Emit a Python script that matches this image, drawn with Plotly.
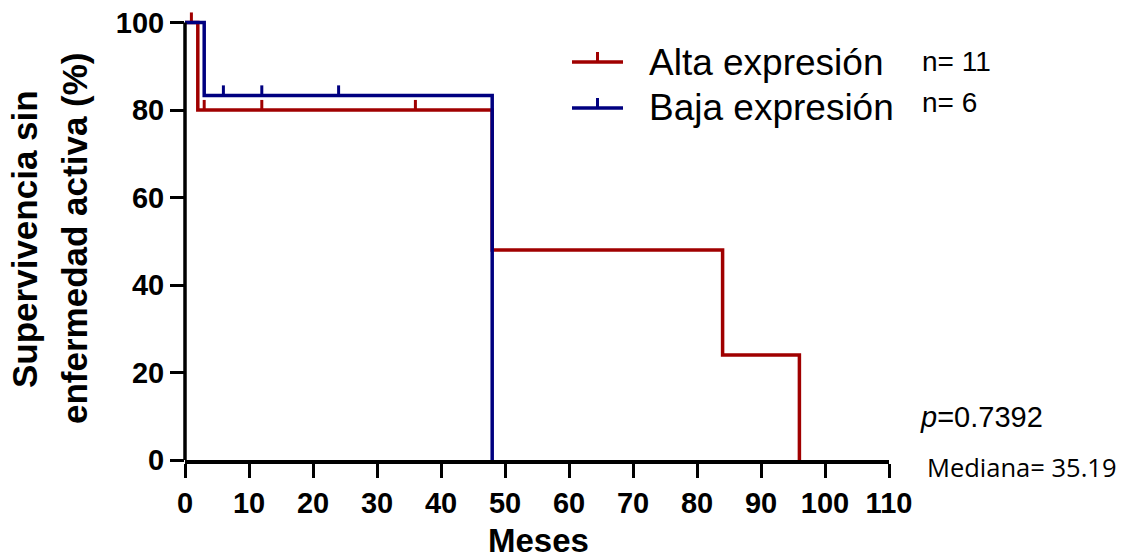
import plotly.graph_objects as go

# Kaplan-Meier step data (months, % event-free survival)
alta_t = [0, 2, 48, 84, 96]
alta_s = [100, 80, 48, 24, 0]
alta_cens_t = [1, 3, 12, 36]
alta_cens_s = [100, 80, 80, 80]

baja_t = [0, 3, 48]
baja_s = [100, 83.33, 0]
baja_cens_t = [6, 12, 24]
baja_cens_s = [83.33, 83.33, 83.33]

x_ticks = [0, 10, 20, 30, 40, 50, 60, 70, 80, 90, 100, 110]
y_ticks = [0, 20, 40, 60, 80, 100]

RED = "#a00000"
BLUE = "#000080"
FONT = "Liberation Sans, Arial, sans-serif"

W, H = 1130, 558
L, R, T, B = 185, 889, 5, 460
Y_MAX = 104
CENSOR_H = 2.3  # height of censor tick marks in y units


def px(x):
    return (x - L) / (R - L)


def py(y):
    return (B - y) / (B - T)


def censor_segments(ts, ss):
    xs, ys = [], []
    for t, s in zip(ts, ss):
        xs += [t, t, None]
        ys += [s, s + CENSOR_H, None]
    return xs, ys


fig = go.Figure()

for t, s, ct, cs, col in [
    (alta_t, alta_s, alta_cens_t, alta_cens_s, RED),
    (baja_t, baja_s, baja_cens_t, baja_cens_s, BLUE),
]:
    fig.add_trace(go.Scatter(x=t, y=s, mode="lines", line=dict(color=col, width=3.5, shape="hv"),
                             showlegend=False, hoverinfo="skip"))
    cx, cy = censor_segments(ct, cs)
    fig.add_trace(go.Scatter(x=cx, y=cy, mode="lines", line=dict(color=col, width=3),
                             showlegend=False, hoverinfo="skip"))

shapes = [
    # y axis line from 0 to 100
    dict(type="line", xref="paper", yref="y", x0=0, x1=0, y0=0, y1=100,
         line=dict(color="black", width=3.5), layer="above"),
]

# legend keys
legend_items = [("Alta expresión", "n= 11", RED, 62, 62, 61),
                ("Baja expresión", "n= 6", BLUE, 108, 108, 102)]
annotations = []
for label, n, col, ly, ty, ny in legend_items:
    shapes.append(dict(type="line", xref="paper", yref="paper", x0=px(572), x1=px(623), y0=py(ly), y1=py(ly),
                       line=dict(color=col, width=3.5)))
    shapes.append(dict(type="line", xref="paper", yref="paper", x0=px(597.5), x1=px(597.5), y0=py(ly), y1=py(ly - 10),
                       line=dict(color=col, width=3)))
    annotations.append(dict(x=px(647), y=py(ty), xref="paper", yref="paper", text=label, showarrow=False,
                            xanchor="left", yanchor="middle", font=dict(family=FONT, size=37, color="black")))
    annotations.append(dict(x=px(920), y=py(ny), xref="paper", yref="paper", text=n, showarrow=False,
                            xanchor="left", yanchor="middle", font=dict(family=FONT, size=28, color="black")))

annotations += [
    dict(x=px(918), y=py(417), xref="paper", yref="paper", text="<i>p</i>=0.7392", showarrow=False,
         xanchor="left", yanchor="middle", font=dict(family=FONT, size=29, color="black")),
    dict(x=px(925), y=py(467), xref="paper", yref="paper", text="Mediana= 35.19", showarrow=False,
         xanchor="left", yanchor="middle", font=dict(family="Open Sans, sans-serif", size=25.5, color="black")),
    dict(x=px(538), y=py(540), xref="paper", yref="paper", text="Meses", showarrow=False,
         xanchor="center", yanchor="middle", font=dict(family=FONT, size=33, color="black", weight="bold")),
    dict(x=px(25), y=py(239), xref="paper", yref="paper", text="Supervivencia sin",
         showarrow=False, textangle=-90, xanchor="center", yanchor="middle",
         font=dict(family=FONT, size=35, color="black", weight="bold")),
    dict(x=px(75), y=py(238), xref="paper", yref="paper", text="enfermedad activa (%)",
         showarrow=False, textangle=-90, xanchor="center", yanchor="middle",
         font=dict(family=FONT, size=35, color="black", weight="bold")),
]

fig.update_layout(
    width=W, height=H,
    margin=dict(l=L, r=W - R, t=T, b=H - B),
    paper_bgcolor="white", plot_bgcolor="white",
    shapes=shapes, annotations=annotations,
    xaxis=dict(range=[0, 110], tickvals=x_ticks, ticktext=[str(v) for v in x_ticks],
               showline=True, linecolor="black", linewidth=3.5, ticks="outside", ticklen=14, tickwidth=3,
               tickcolor="black", showgrid=False, zeroline=False,
               tickfont=dict(family=FONT, size=29, color="black", weight="bold")),
    yaxis=dict(range=[0, Y_MAX], tickvals=y_ticks, ticktext=[str(v) for v in y_ticks],
               showline=False, ticks="outside", ticklen=14, tickwidth=3, tickcolor="black",
               showgrid=False, zeroline=False,
               tickfont=dict(family=FONT, size=29, color="black", weight="bold")),
)

fig.write_html("out.html")
